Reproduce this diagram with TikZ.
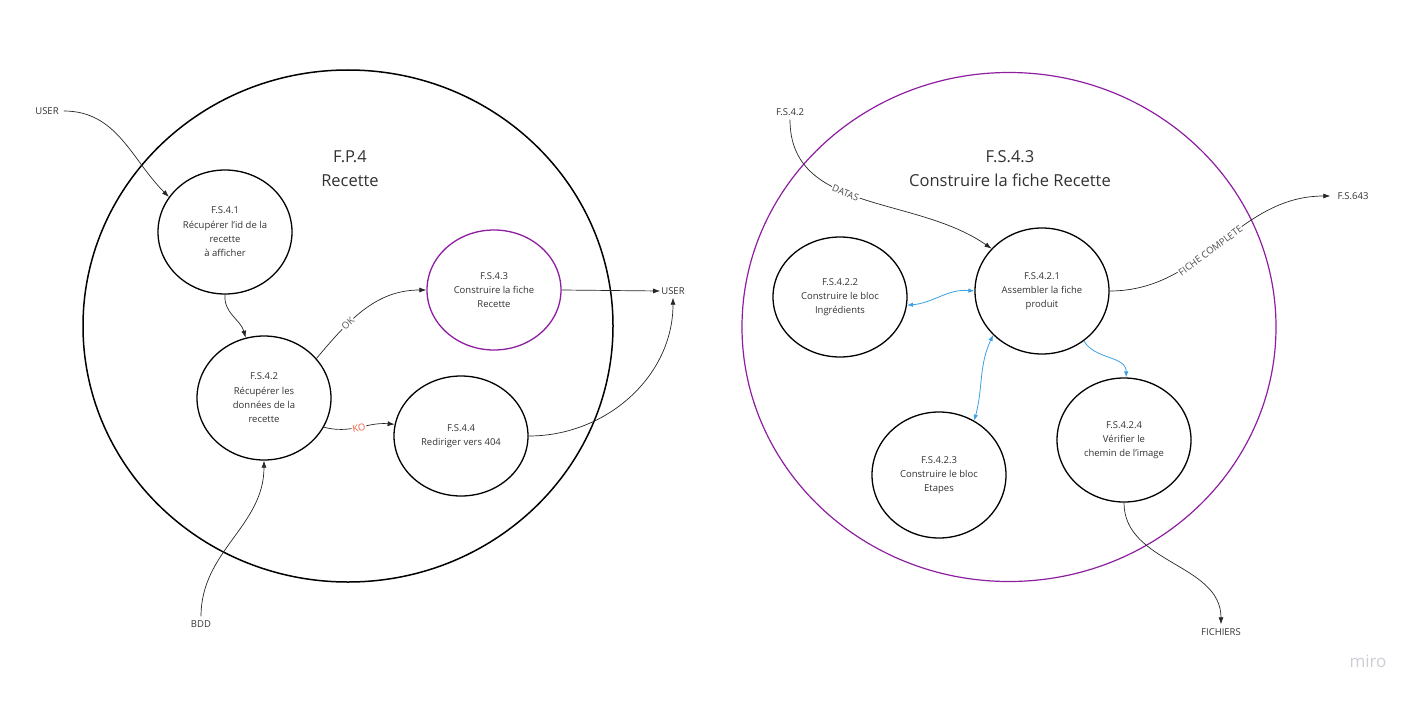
\documentclass[tikz,border=0pt]{standalone}
\usepackage{fontspec}
\setmainfont{Open Sans}
\usetikzlibrary{shapes.geometric,arrows.meta}
\definecolor{mpurple}{RGB}{142,30,160}
\definecolor{mblue}{RGB}{60,160,225}
\definecolor{mtext}{RGB}{50,50,50}
\definecolor{mko}{RGB}{240,95,60}
\definecolor{mgray}{RGB}{205,205,215}
\tikzset{
  proc/.style={ellipse,draw=black,line width=1.3pt,minimum width=134pt,minimum height=124pt,inner sep=0pt,align=center,font=\fontsize{9.5}{14.3}\selectfont,text=mtext},
  big/.style={ellipse,draw=black,line width=1.5pt,inner sep=0pt},
  ext/.style={font=\fontsize{9.5}{11}\selectfont,text=mtext,inner sep=1pt},
  flow/.style={draw=black!85,line width=0.7pt,-{Latex[length=7pt,width=5pt]}},
  bflow/.style={draw=mblue,line width=0.8pt,{Latex[length=6pt,width=4.5pt]}-{Latex[length=6pt,width=4.5pt]}},
  bflow1/.style={draw=mblue,line width=0.8pt,-{Latex[length=6pt,width=4.5pt]}},
  lab/.style={fill=white,font=\fontsize{9.5}{11}\selectfont,text=black!70,inner sep=1pt,sloped},
  title/.style={font=\fontsize{16.5}{24}\selectfont,text=mtext,align=center}
}
\begin{document}
\begin{tikzpicture}[x=1pt,y=-1pt]
\useasboundingbox (0,0) rectangle (1424,701);
% big frames
\node[big,minimum width=530pt,minimum height=512pt] (bigL) at (348,326) {};
\node[big,draw=mpurple,line width=1.2pt,minimum width=534pt,minimum height=509pt] (bigR) at (1009,327) {};
\node[title] (tL) at (350,169) {F.P.4\\Recette};
\node[title] (tR) at (1010,169) {F.S.4.3\\Construire la fiche Recette};
% left processes
\node[proc] (n41) at (225,232) {F.S.4.1\\Récupérer l'id de la\\recette\\à afficher};
\node[proc] (n42) at (264,398) {F.S.4.2\\Récupérer les\\données de la\\recette};
\node[proc,draw=mpurple,minimum height=120pt] (n43) at (494,290) {F.S.4.3\\Construire la fiche\\Recette};
\node[proc,minimum height=120pt] (n44) at (461,436) {F.S.4.4\\Rediriger vers 404};
% right processes
\node[proc,minimum height=120pt] (n422) at (840,297) {F.S.4.2.2\\Construire le bloc\\Ingrédients};
\node[proc,minimum height=126pt] (n421) at (1042,291) {F.S.4.2.1\\Assembler la fiche\\produit};
\node[proc,minimum height=126pt] (n423) at (939,475) {F.S.4.2.3\\Construire le bloc\\Etapes};
\node[proc] (n424) at (1124,440) {F.S.4.2.4\\Vérifier le\\chemin de l'image};
% externals
\node[ext] (user1) at (47,111) {USER};
\node[ext] (user2) at (673,291) {USER};
\node[ext] (bdd) at (201,624) {BDD};
\node[ext] (fs42) at (790,112) {F.S.4.2};
\node[ext] (fs643) at (1353,196) {F.S.643};
\node[ext] (fich) at (1221,632) {FICHIERS};
\node[font=\fontsize{17}{19}\selectfont,text=mgray] (miro) at (1368,661) {miro};
% left flows
\draw[flow] ([xshift=4pt]user1.east) to[out=0,in=135] (n41.148);
\draw[flow] (n41.south) to[out=-95,in=105] (n42.107);
\draw[flow] (n42.37) to[out=50,in=180] node[lab,pos=0.33,text=black!65] {OK} (n43.west);
\draw[flow] (n42.-26) to[out=-15,in=175] node[lab,pos=0.5,text=mko] {KO} (n44.170);
\draw[flow] (n43.east) -- (user2.west);
\draw[flow] (n44.east) to[out=0,in=-90] ([yshift=-2pt]user2.south);
\draw[flow] ([yshift=3pt]bdd.north) to[out=90,in=-90] (n42.south);
% right flows
\draw[flow] ([yshift=-3pt]fs42.south) to[out=-90,in=145] node[lab,pos=0.43] {DATAS} (n421.140);
\draw[flow] (n421.east) to[out=0,in=180] node[lab,pos=0.45] {FICHE COMPLETE} ([xshift=-6pt]fs643.west);
\draw[bflow] (n422.-7) to[out=5,in=175] (n421.west);
\draw[bflow] (n421.-138) to[out=-115,in=75] (n423.57);
\draw[bflow1] (n421.-50) to[out=-60,in=90] (n424.88);
\draw[flow] (n424.south) to[out=-90,in=90] ([yshift=3pt]fich.north);
\end{tikzpicture}
\end{document}
